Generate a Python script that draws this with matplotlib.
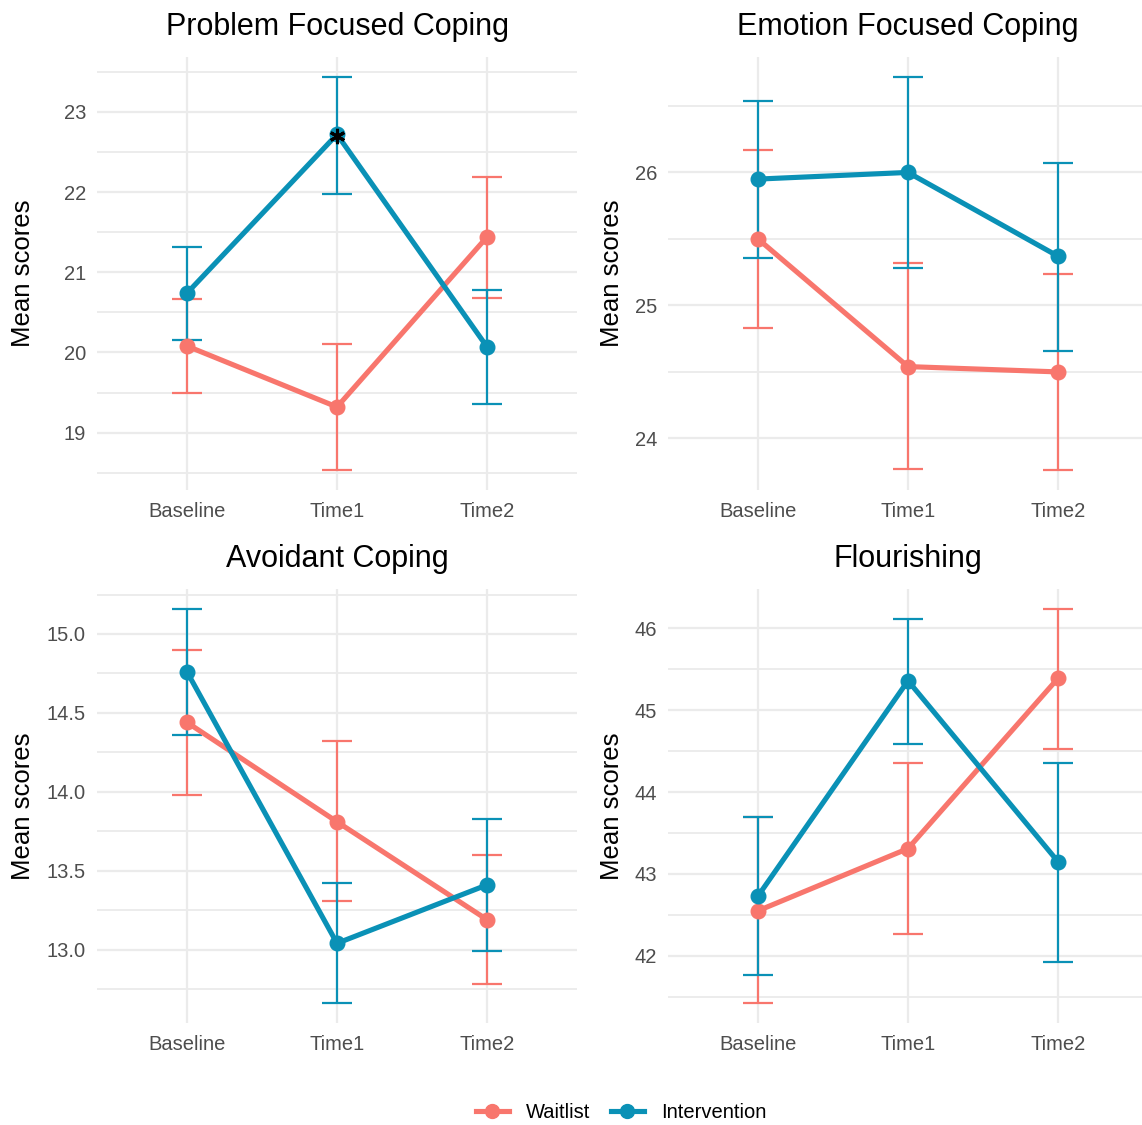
import matplotlib
matplotlib.use("Agg")
import matplotlib.pyplot as plt
from matplotlib.lines import Line2D
from matplotlib.ticker import MultipleLocator
import numpy as np

plt.rcParams["font.family"] = ["Liberation Sans", "DejaVu Sans"]

times = ["Baseline", "Time1", "Time2"]
groups = ["Waitlist", "Intervention"]
colors = {"Waitlist": "#F8766D", "Intervention": "#0A91B6"}

titles = ["Problem Focused Coping", "Emotion Focused Coping", "Avoidant Coping", "Flourishing"]

# means and error bar ends per panel, per group
problem_mean = {"Waitlist": [20.08, 19.32, 21.44], "Intervention": [20.74, 22.72, 20.07]}
problem_low = {"Waitlist": [19.49, 18.53, 20.68], "Intervention": [20.16, 21.98, 19.36]}
problem_high = {"Waitlist": [20.67, 20.11, 22.19], "Intervention": [21.32, 23.44, 20.78]}

emotion_mean = {"Waitlist": [25.50, 24.54, 24.50], "Intervention": [25.95, 26.00, 25.37]}
emotion_low = {"Waitlist": [24.83, 23.77, 23.76], "Intervention": [25.36, 25.28, 24.66]}
emotion_high = {"Waitlist": [26.17, 25.32, 25.24], "Intervention": [26.54, 26.72, 26.07]}

avoidant_mean = {"Waitlist": [14.44, 13.81, 13.19], "Intervention": [14.76, 13.04, 13.41]}
avoidant_low = {"Waitlist": [13.98, 13.31, 12.78], "Intervention": [14.36, 12.66, 12.99]}
avoidant_high = {"Waitlist": [14.90, 14.32, 13.60], "Intervention": [15.16, 13.42, 13.83]}

flourish_mean = {"Waitlist": [42.55, 43.31, 45.39], "Intervention": [42.73, 45.36, 43.15]}
flourish_low = {"Waitlist": [41.42, 42.27, 44.53], "Intervention": [41.77, 44.59, 41.93]}
flourish_high = {"Waitlist": [43.69, 44.35, 46.24], "Intervention": [43.69, 46.12, 44.36]}

panels = [
    (problem_mean, problem_low, problem_high, 1.0, "{:.0f}"),
    (emotion_mean, emotion_low, emotion_high, 1.0, "{:.0f}"),
    (avoidant_mean, avoidant_low, avoidant_high, 0.5, "{:.1f}"),
    (flourish_mean, flourish_low, flourish_high, 1.0, "{:.0f}"),
]

# significance marker (Problem Focused, Time1)
star_panel, star_time, star_value = 0, 1, 22.70

W, H = 1142, 1125
fig = plt.figure(figsize=(W / 100, H / 100), dpi=100)

xs = [(97, 577), (668, 1148)]
ys = [(57, 490), (589, 1023)]
ylabel_x = [23, 612]
grid_col = "#EBEBEB"

for k, (mean, low, high, step, fmt) in enumerate(panels):
    r, c = divmod(k, 2)
    x0, x1 = xs[c]
    y0, y1 = ys[r]
    ax = fig.add_axes([x0 / W, 1 - y1 / H, (x1 - x0) / W, (y1 - y0) / H])
    x = np.arange(len(times))

    for g in groups:
        m = np.array(mean[g])
        lo = m - np.array(low[g])
        hi = np.array(high[g]) - m
        ax.errorbar(x, m, yerr=[lo, hi], fmt="none", ecolor=colors[g],
                    elinewidth=1.6, capsize=10.8, capthick=1.6, zorder=2)
    for g in groups:
        ax.plot(x, mean[g], color=colors[g], linewidth=3.7, zorder=3,
                solid_capstyle="butt")
        ax.plot(x, mean[g], "o", color=colors[g], markersize=10.5, zorder=4)

    if k == star_panel:
        ax.plot([star_time], [star_value], marker=(6, 2, 0), color="black",
                markersize=11, markeredgewidth=2.2, zorder=5)

    allv = [v for g in groups for v in low[g] + high[g]]
    lo_v, hi_v = min(allv), max(allv)
    pad = (hi_v - lo_v) * 0.05
    ax.set_ylim(lo_v - pad, hi_v + pad)
    ax.set_xlim(-0.6, 2.6)

    ax.yaxis.set_major_locator(MultipleLocator(step))
    ax.yaxis.set_minor_locator(MultipleLocator(step / 2))
    ax.yaxis.set_major_formatter(plt.FuncFormatter(lambda v, p, f=fmt: f.format(v)))
    ax.set_xticks(x)
    ax.set_xticklabels(times)
    ax.tick_params(axis="both", which="both", length=0, labelsize=14.5, labelcolor="#4D4D4D")
    ax.tick_params(axis="x", pad=8.5)
    ax.tick_params(axis="y", pad=8)
    ax.grid(True, which="major", color=grid_col, linewidth=1.6)
    ax.grid(True, which="minor", axis="y", color=grid_col, linewidth=1.3)
    ax.set_axisbelow(True)
    for s in ax.spines.values():
        s.set_visible(False)
    ax.set_ylabel("Mean scores", fontsize=18.5, color="black")
    ax.yaxis.set_label_coords((ylabel_x[c] - x0) / (x1 - x0), 0.5)
    ax.yaxis.label.set_va("center")
    ax.set_title(titles[k], fontsize=22, color="black", pad=15.5)

handles = [Line2D([0], [0], color=colors[g], linewidth=3.7, marker="o", markersize=10)
           for g in groups]
fig.legend(handles, groups, loc="center", bbox_to_anchor=(621 / W, 1 - 1113 / H), ncol=2,
           frameon=False, fontsize=14.5, handlelength=1.65, columnspacing=1.0,
           handletextpad=0.85)

fig.savefig("out.png", dpi=100)
